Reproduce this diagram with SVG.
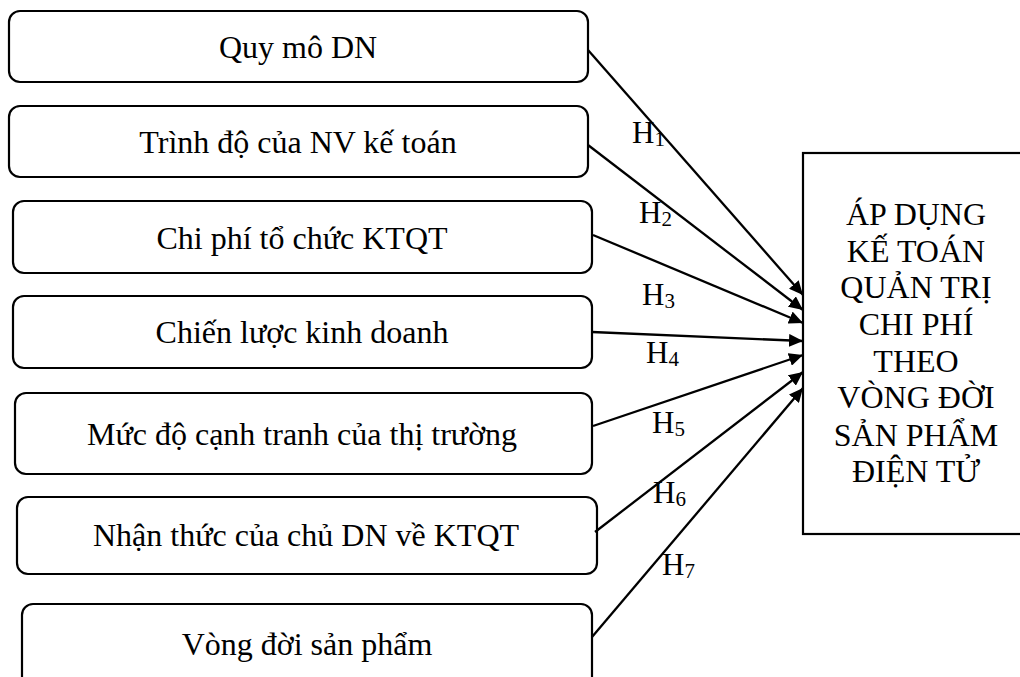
<svg xmlns="http://www.w3.org/2000/svg" width="1020" height="677" viewBox="0 0 1020 677">
  <style>
    .box { fill: #ffffff; stroke: #000000; stroke-width: 2.2; }
    .lbl { font-family: "Liberation Serif", "Times New Roman", serif; font-size: 32px; fill: #000000; text-anchor: middle; }
    .h { font-family: "Liberation Serif", "Times New Roman", serif; font-size: 31px; fill: #000000; }
    .sub { font-size: 21px; }
    .edge { stroke: #000000; stroke-width: 2.3; fill: none; marker-end: url(#arrow); }
  </style>
  <defs>
    <marker id="arrow" markerUnits="userSpaceOnUse" markerWidth="15" markerHeight="13" refX="14" refY="6.5" orient="auto">
      <path d="M0,0 L14,6.5 L0,13 Z" fill="#000000"/>
    </marker>
  </defs>

  <rect width="1020" height="677" fill="#ffffff"/>

  <!-- factor boxes -->
  <g id="n1">
    <rect class="box" x="9" y="11" width="579" height="71" rx="11"/>
    <text class="lbl" x="298" y="58">Quy mô DN</text>
  </g>
  <g id="n2">
    <rect class="box" x="9" y="106" width="579" height="71" rx="11"/>
    <text class="lbl" x="298" y="153">Trình độ của NV kế toán</text>
  </g>
  <g id="n3">
    <rect class="box" x="13" y="201" width="579" height="72" rx="11"/>
    <text class="lbl" x="302" y="249">Chi phí tổ chức KTQT</text>
  </g>
  <g id="n4">
    <rect class="box" x="13" y="296" width="579" height="72" rx="11"/>
    <text class="lbl" x="302" y="343">Chiến lược kinh doanh</text>
  </g>
  <g id="n5">
    <rect class="box" x="15" y="393" width="577" height="81" rx="11"/>
    <text class="lbl" x="302" y="445">Mức độ cạnh tranh của thị trường</text>
  </g>
  <g id="n6">
    <rect class="box" x="17" y="497" width="580" height="77" rx="11"/>
    <text class="lbl" x="306" y="546">Nhận thức của chủ DN về KTQT</text>
  </g>
  <g id="n7">
    <rect class="box" x="22" y="604" width="570" height="90" rx="11"/>
    <text class="lbl" x="307" y="655">Vòng đời sản phẩm</text>
  </g>

  <!-- outcome box -->
  <g id="target">
    <rect class="box" x="803" y="153" width="230" height="381"/>
    <text class="lbl" x="916" y="225">ÁP DỤNG</text>
    <text class="lbl" x="916" y="262">KẾ TOÁN</text>
    <text class="lbl" x="916" y="298">QUẢN TRỊ</text>
    <text class="lbl" x="916" y="335">CHI PHÍ</text>
    <text class="lbl" x="916" y="372">THEO</text>
    <text class="lbl" x="916" y="408">VÒNG ĐỜI</text>
    <text class="lbl" x="916" y="446">SẢN PHẨM</text>
    <text class="lbl" x="916" y="482">ĐIỆN TỬ</text>
  </g>

  <!-- hypothesis labels -->
  <g id="labels">
    <text class="h" x="632" y="143">H<tspan class="sub" dy="3">1</tspan></text>
    <text class="h" x="639" y="223">H<tspan class="sub" dy="3">2</tspan></text>
    <text class="h" x="642" y="305">H<tspan class="sub" dy="3">3</tspan></text>
    <text class="h" x="646" y="363">H<tspan class="sub" dy="3">4</tspan></text>
    <text class="h" x="652" y="433">H<tspan class="sub" dy="3">5</tspan></text>
    <text class="h" x="653" y="503">H<tspan class="sub" dy="3">6</tspan></text>
    <text class="h" x="662" y="575">H<tspan class="sub" dy="3">7</tspan></text>
  </g>

  <!-- connectors -->
  <g id="connectors">
    <line class="edge" x1="588" y1="50" x2="803" y2="295"/>
    <line class="edge" x1="588" y1="145" x2="803" y2="310"/>
    <line class="edge" x1="593" y1="235" x2="803" y2="323"/>
    <line class="edge" x1="592" y1="332" x2="803" y2="341"/>
    <line class="edge" x1="593" y1="426" x2="803" y2="355"/>
    <line class="edge" x1="595" y1="532" x2="803" y2="372"/>
    <line class="edge" x1="592" y1="637" x2="803" y2="388"/>
  </g>
</svg>
